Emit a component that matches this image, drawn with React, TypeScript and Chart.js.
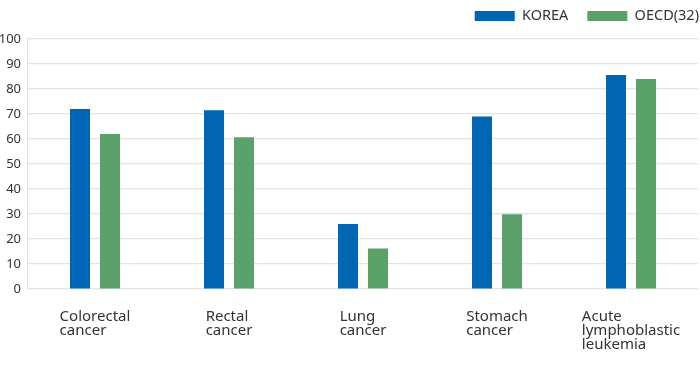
import React, { useEffect, useRef } from "react";
import { Chart, registerables } from "chart.js";

Chart.register(...registerables);

const categories: string[][] = [
  ["Colorectal", "cancer"],
  ["Rectal", "cancer"],
  ["Lung", "cancer"],
  ["Stomach", "cancer"],
  ["Acute", "lymphoblastic", "leukemia"],
];
const seriesNames = ["KOREA", "OECD(32)"];
const koreaValues = [72, 71.5, 26, 69, 85.6];
const oecdValues = [62, 60.7, 16.2, 29.9, 84];
const yMin = 0;
const yMax = 100;
const yStep = 10;

const FONT = "'Noto Sans', sans-serif";
const TEXT = "#333333";
const GRID = "#e3e3e3";
const LEGEND_FONT = 14.5;
const LEGEND_PAD = 19;
const LEGEND_BOX_H = 10;
const LEGEND_BOX_TOP = 11;
const LEGEND_RIGHT = 699;
const TOP_AREA = 39;

const xLabelPlugin = {
  id: "xLabelsLeftBlock",
  afterDraw(chart: any) {
    const ctx = chart.ctx;
    const xs = chart.scales.x;
    const area = chart.chartArea;
    ctx.save();
    ctx.font = `15px ${FONT}`;
    ctx.fillStyle = TEXT;
    ctx.textAlign = "left";
    ctx.textBaseline = "alphabetic";
    const lh = 14;
    categories.forEach((lines, i) => {
      const cx = xs.getPixelForValue(i);
      const w = Math.max(...lines.map((l) => ctx.measureText(l).width));
      lines.forEach((l, j) => {
        ctx.fillText(l, cx - w / 2, area.bottom + 32 + j * lh);
      });
    });
    ctx.restore();
  },
};

const legendTweakPlugin = {
  id: "legendTweak",
  afterInit(chart: any) {
    const lg = chart.legend;
    if (!lg || lg.__patched) return;
    lg.__patched = true;
    const origFit = lg.fit.bind(lg);
    lg.fit = function () {
      origFit();
      this.height = TOP_AREA;
    };
    const origDraw = lg.draw.bind(lg);
    lg.draw = function () {
      const hbs = this.legendHitBoxes || [];
      const last = hbs[hbs.length - 1];
      const dx = last ? LEGEND_RIGHT - (last.left + last.width) : 0;
      const dy = LEGEND_BOX_TOP - (this.top + LEGEND_PAD + Math.max((LEGEND_FONT - LEGEND_BOX_H) / 2, 0));
      const ctx = this.ctx;
      ctx.save();
      ctx.translate(dx, dy);
      origDraw();
      ctx.restore();
    };
  },
};

export default function App() {
  const ref = useRef<HTMLCanvasElement | null>(null);
  useEffect(() => {
    if (!ref.current) return;
    const chart = new Chart(ref.current, {
      type: "bar",
      data: {
        labels: categories.map((c) => c.join(" ")),
        datasets: [
          {
            label: seriesNames[0],
            data: koreaValues,
            backgroundColor: "#0066b3",
            categoryPercentage: 0.448,
            barPercentage: 0.667,
          },
          {
            label: seriesNames[1],
            data: oecdValues,
            backgroundColor: "#5aa26a",
            categoryPercentage: 0.448,
            barPercentage: 0.667,
          },
        ],
      },
      options: {
        animation: false,
        responsive: true,
        maintainAspectRatio: false,
        layout: { padding: { left: 0, right: 2, top: 0, bottom: 81 } },
        plugins: {
          legend: {
            position: "top",
            align: "end",
            labels: {
              boxWidth: 40,
              boxHeight: LEGEND_BOX_H,
              padding: LEGEND_PAD,
              color: TEXT,
              font: { family: FONT, size: LEGEND_FONT },
            },
          },
          tooltip: { enabled: false },
        },
        scales: {
          x: {
            display: false,
            grid: { display: false },
          },
          y: {
            min: yMin,
            max: yMax,
            ticks: {
              stepSize: yStep,
              color: TEXT,
              padding: 7,
              font: { family: FONT, size: 13 },
            },
            grid: { color: GRID, drawTicks: false, lineWidth: 1.2 },
            border: { display: true, color: GRID, width: 1.2 },
            afterFit(scale: any) {
              scale.width = 28;
            },
          },
        },
      },
      plugins: [legendTweakPlugin, xLabelPlugin],
    });
    return () => chart.destroy();
  }, []);
  return (
    <div style={{ position: "fixed", left: 0, top: 0, width: 700, height: 370, background: "#fff" }}>
      <canvas ref={ref} />
    </div>
  );
}
